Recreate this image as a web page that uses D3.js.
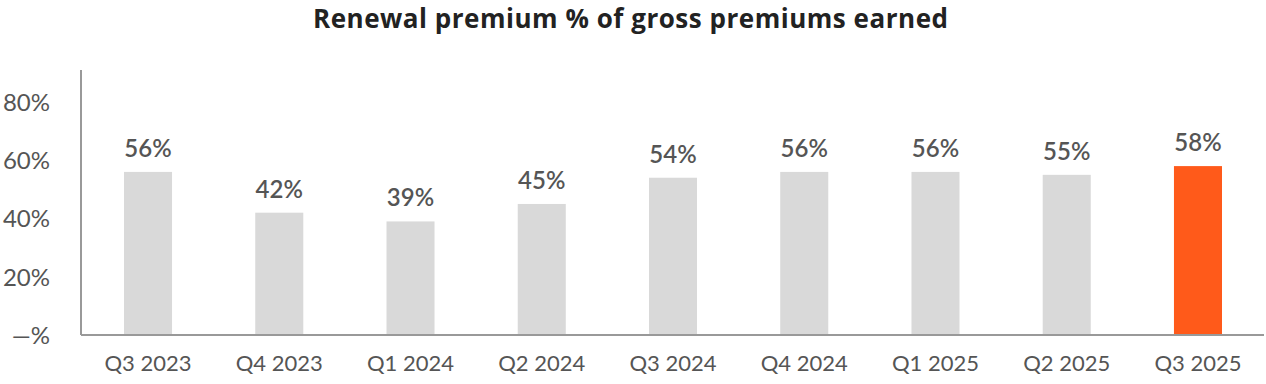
<!DOCTYPE html>
<html><head><meta charset="utf-8">
<script src="https://cdn.jsdelivr.net/npm/d3@7"></script>
<style>html,body{margin:0;padding:0;background:#fff;}svg{display:block;}</style>
</head><body><svg id="c" width="1266" height="384"></svg>
<script>
const title = "Renewal premium % of gross premiums earned";
const categories = ["Q3 2023","Q4 2023","Q1 2024","Q2 2024","Q3 2024","Q4 2024","Q1 2025","Q2 2025","Q3 2025"];
const values = [56, 42, 39, 45, 54, 56, 56, 55, 58];
const highlight = [false,false,false,false,false,false,false,false,true];
const yTicks = [0, 20, 40, 60, 80];
const yTickLabels = ["\u2014%", "20%", "40%", "60%", "80%"];

(function(){
const svg = d3.select("#c");
const mLeft = 81, mTop = 70, mBottom = 335;
const x = d3.scaleBand().domain(categories).range([82.4, 1263.6]).paddingInner(0.634).paddingOuter(0.317);
const y = d3.scaleLinear().domain([0, 91]).range([mBottom, mTop]);
const font = "Lato, 'Open Sans', sans-serif";

svg.append("text").attr("x", 630.5).attr("y", 28).attr("text-anchor", "middle")
  .attr("font-family", "'Open Sans',sans-serif").attr("font-weight", 700)
  .attr("font-size", 26).attr("fill", "#222")
  .attr("textLength", 635).attr("lengthAdjust", "spacing").text(title);

svg.selectAll("rect.bar").data(values).join("rect").attr("class","bar")
  .attr("x", (d,i) => x(categories[i])).attr("width", x.bandwidth())
  .attr("y", d => y(d)).attr("height", d => y(0) - y(d))
  .attr("fill", (d,i) => highlight[i] ? "#FF5A1A" : "#D9D9D9");

svg.selectAll("text.val").data(values).join("text").attr("class","val")
  .attr("x", (d,i) => x(categories[i]) + x.bandwidth()/2).attr("y", d => y(d) - 15)
  .attr("text-anchor","middle").attr("font-family", font).attr("font-size", 24)
  .attr("font-weight", 600).attr("fill", "#555").text(d => d + "%");

const yAxis = d3.axisLeft(y).tickValues(yTicks).tickFormat((d,i) => yTickLabels[i]).tickSize(0).tickPadding(0);
const gy = svg.append("g").attr("transform", `translate(${mLeft},0)`).call(yAxis);
gy.select(".domain").remove();
gy.selectAll("text").attr("x", -31).attr("text-anchor","end").attr("font-family", font)
  .attr("font-size", 24).attr("fill", "#555").attr("dy", "0.35em");
svg.append("line").attr("x1", mLeft).attr("x2", mLeft).attr("y1", mTop).attr("y2", mBottom)
  .attr("stroke", "#999").attr("stroke-width", 2);

const xAxis = d3.axisBottom(x).tickSize(0).tickPadding(0);
const gx = svg.append("g").attr("transform", `translate(0,${mBottom})`).call(xAxis);
gx.select(".domain").remove();
gx.selectAll("text").attr("y", 28).attr("dy", "0.35em").attr("font-family", font)
  .attr("font-size", 22).attr("fill", "#555");
svg.append("line").attr("x1", mLeft).attr("x2", 1264).attr("y1", mBottom).attr("y2", mBottom)
  .attr("stroke", "#999").attr("stroke-width", 2);
})();
</script></body></html>
